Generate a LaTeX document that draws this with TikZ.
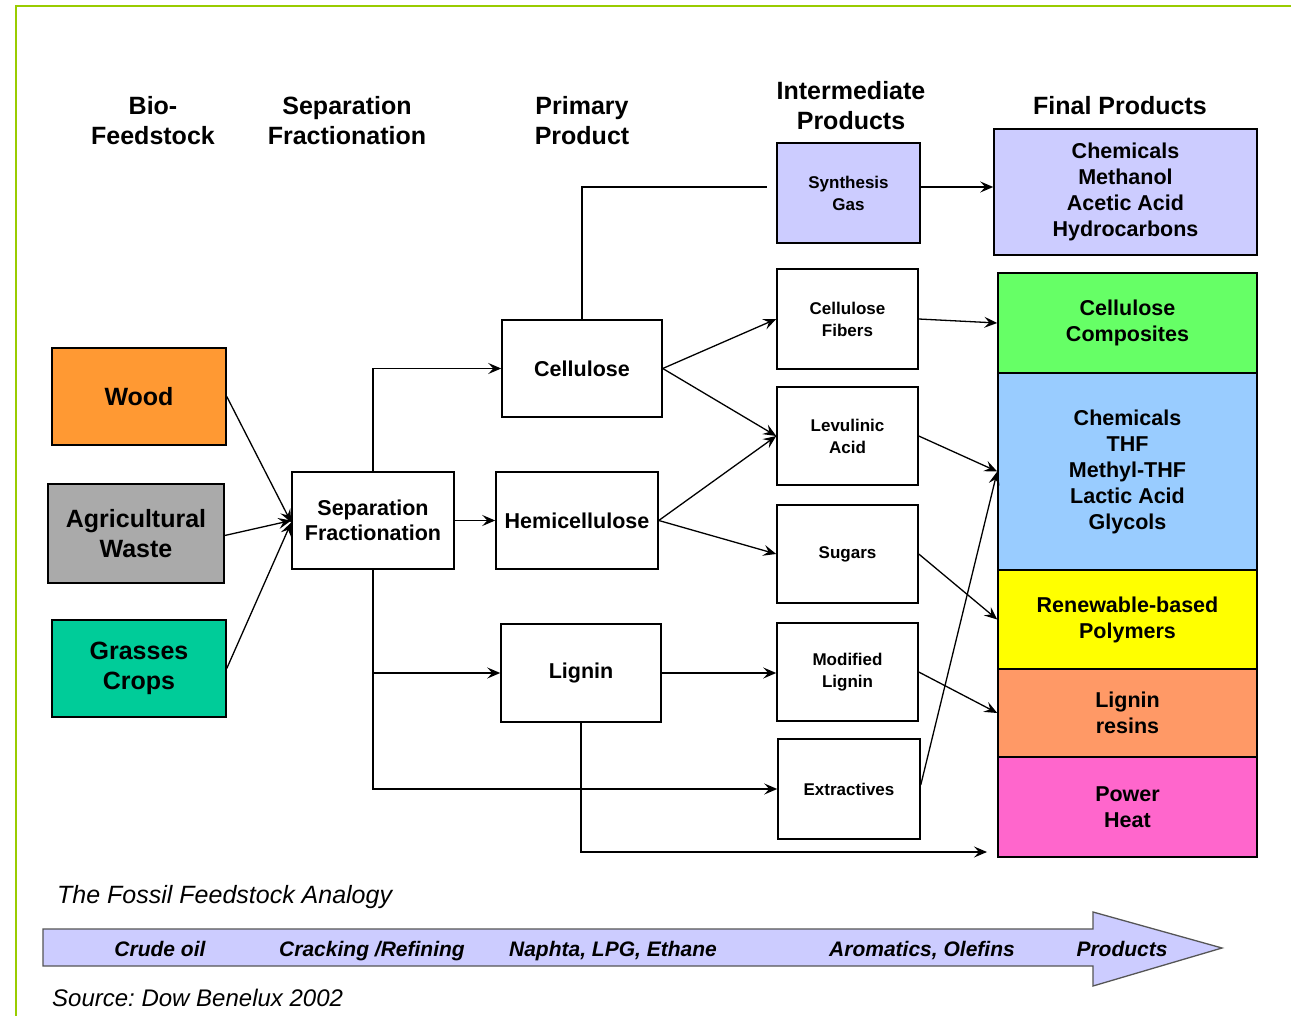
\documentclass[tikz,border=0pt]{standalone}
\usepackage{fontspec}
\setmainfont{Liberation Sans}
\usetikzlibrary{arrows.meta,calc}
\frenchspacing
\definecolor{frameg}{HTML}{99CC00}
\definecolor{corange}{HTML}{FF9933}
\definecolor{cgray}{HTML}{AAAAAA}
\definecolor{cteal}{HTML}{00CC99}
\definecolor{clav}{HTML}{CCCCFF}
\definecolor{cgreen}{HTML}{66FF66}
\definecolor{cblue}{HTML}{99CCFF}
\definecolor{cyellow}{HTML}{FFFF00}
\definecolor{csalmon}{HTML}{FF9966}
\definecolor{cpink}{HTML}{FF66CC}
\definecolor{arrowedge}{HTML}{555555}
\tikzset{
  bx/.style={draw, line width=1.5pt, inner sep=0pt, align=center},
  fbig/.style={font=\fontsize{25}{30}\selectfont\bfseries},
  fmid/.style={font=\fontsize{21.5}{25}\selectfont\bfseries},
  fsmall/.style={font=\fontsize{17}{22}\selectfont\bfseries},
  ffinal/.style={font=\fontsize{21.5}{26}\selectfont\bfseries},
  hdr/.style={align=center, inner sep=0pt, font=\fontsize{25}{30}\selectfont\bfseries},
  conn/.style={line width=1.3pt, -{Stealth[length=13pt,width=11pt,inset=5pt]}},
  plain/.style={line width=1.3pt},
  atxt/.style={inner sep=0pt, anchor=base, font=\fontsize{21}{25}\selectfont\bfseries\itshape}
}
\begin{document}
\begin{tikzpicture}[x=1pt,y=-1pt]
\useasboundingbox (0,0) rectangle (1291,1016);
% frame
\draw[frameg, line width=2pt] (16,1020) -- (16,6) -- (1295,6);

% headers
\node[hdr] (h1) at (153,121) {Bio-\\Feedstock};
\node[hdr] (h2) at (347,121) {Separation\\Fractionation};
\node[hdr] (h3) at (582,121) {Primary\\Product};
\node[hdr] (h4) at (851,106) {Intermediate\\Products};
\node[hdr] (h5) at (1120,106) {Final Products};

% feedstock
\node[bx, fbig, fill=corange, minimum width=174pt, minimum height=97pt] (wood) at (139,396.5) {Wood};
\node[bx, fbig, fill=cgray, minimum width=176pt, minimum height=99pt] (agri) at (136,533.5) {Agricultural\\Waste};
\node[bx, fbig, fill=cteal, minimum width=174pt, minimum height=97pt] (grass) at (139,668.5) {Grasses\\Crops};

% separation
\node[bx, fmid, fill=white, minimum width=162pt, minimum height=97pt] (sep) at (373,520.5) {Separation\\Fractionation};

% primary
\node[bx, fmid, fill=white, minimum width=160pt, minimum height=97pt] (cell) at (582,368.5) {Cellulose};
\node[bx, fmid, fill=white, minimum width=162pt, minimum height=97pt] (hemi) at (577,520.5) {Hemicellulose};
\node[bx, fmid, fill=white, minimum width=160pt, minimum height=98pt] (lig) at (581,673) {Lignin};

% intermediate
\node[bx, fsmall, fill=clav, minimum width=143pt, minimum height=100pt] (syn) at (848.5,193) {Synthesis\\Gas};
\node[bx, fsmall, fill=white, minimum width=141pt, minimum height=100pt] (cfib) at (847.5,319) {Cellulose\\Fibers};
\node[bx, fsmall, fill=white, minimum width=141pt, minimum height=98pt] (lev) at (847.5,436) {Levulinic\\Acid};
\node[bx, fsmall, fill=white, minimum width=141pt, minimum height=98pt] (sug) at (847.5,554) {Sugars};
\node[bx, fsmall, fill=white, minimum width=141pt, minimum height=98pt] (mlig) at (847.5,672) {Modified\\Lignin};
\node[bx, fsmall, fill=white, minimum width=142pt, minimum height=100pt] (extr) at (849,789) {Extractives};

% final products
\node[bx, ffinal, fill=clav, minimum width=263pt, minimum height=126pt] (fchem) at (1125.5,192) {Chemicals\\Methanol\\Acetic Acid\\Hydrocarbons};
\node[bx, ffinal, fill=cgreen, minimum width=259pt, minimum height=100pt] (comp) at (1127.5,323) {Cellulose\\Composites};
\node[bx, ffinal, fill=cblue, minimum width=259pt, minimum height=197pt] (thf) at (1127.5,471.5) {Chemicals\\THF\\Methyl-THF\\Lactic Acid\\Glycols};
\node[bx, ffinal, fill=cyellow, minimum width=259pt, minimum height=99pt] (poly) at (1127.5,619.5) {Renewable-based\\Polymers};
\node[bx, ffinal, fill=csalmon, minimum width=259pt, minimum height=88pt] (lres) at (1127.5,713) {Lignin\\resins};
\node[bx, ffinal, fill=cpink, minimum width=259pt, minimum height=100pt] (power) at (1127.5,807) {Power\\Heat};

% connectors
\draw[conn] (wood.east) -- ([yshift=-2pt]sep.west);
\draw[conn] ([yshift=-2pt]agri.east) -- (sep.west);
\draw[conn] (grass.east) -- ([yshift=-2pt]sep.west);

\draw[conn] (sep.north) |- (cell.west);
\draw[conn] (sep.east) -- (hemi.west);
\draw[conn] (sep.south) |- (lig.west);
\draw[conn] (sep.south) |- (extr.west);

\draw[plain, shorten >=9pt] (cell.north) |- ([yshift=6pt]syn.west);
\draw[conn] ([yshift=6pt]syn.east) -- ([yshift=6pt]syn.east -| fchem.west);

\draw[conn] (cell.east) -- (cfib.west);
\draw[conn] (cell.east) -- (lev.west);
\draw[conn] (hemi.east) -- (lev.west);
\draw[conn] (hemi.east) -- (sug.west);
\draw[conn] (lig.east) -- (lig.east -| mlig.west);

\coordinate (pend) at (987,852);
\draw[conn] (lig.south) |- (pend);

\draw[conn] (cfib.east) -- (comp.west);
\draw[conn] (lev.east) -- (thf.west);
\draw[conn] (sug.east) -- (poly.west);
\draw[conn] (mlig.east) -- (lres.west);
\draw[conn] ([yshift=4pt]extr.east) -- (thf.west);

% fossil analogy
\node[anchor=west, inner sep=0pt, font=\fontsize{25}{28}\selectfont\itshape] (fossil) at (57,897) {The Fossil Feedstock Analogy};
\draw[fill=clav, draw=arrowedge, line width=1.3pt] (43,929) -- (1093,929) -- (1093,912) -- (1222,948) -- (1093,986) -- (1093,966) -- (43,966) -- cycle;
\node[atxt] (a1) at (160,956) {Crude oil};
\node[atxt] (a2) at (372,956) {Cracking /Refining};
\node[atxt] (a3) at (613,956) {Naphta, LPG, Ethane};
\node[atxt] (a4) at (922,956) {Aromatics, Olefins};
\node[atxt] (a5) at (1122,956) {Products};
\node[anchor=west, inner sep=0pt, font=\fontsize{24}{28}\selectfont\itshape] (src) at (52,998) {Source: Dow Benelux 2002};
\end{tikzpicture}
\end{document}
